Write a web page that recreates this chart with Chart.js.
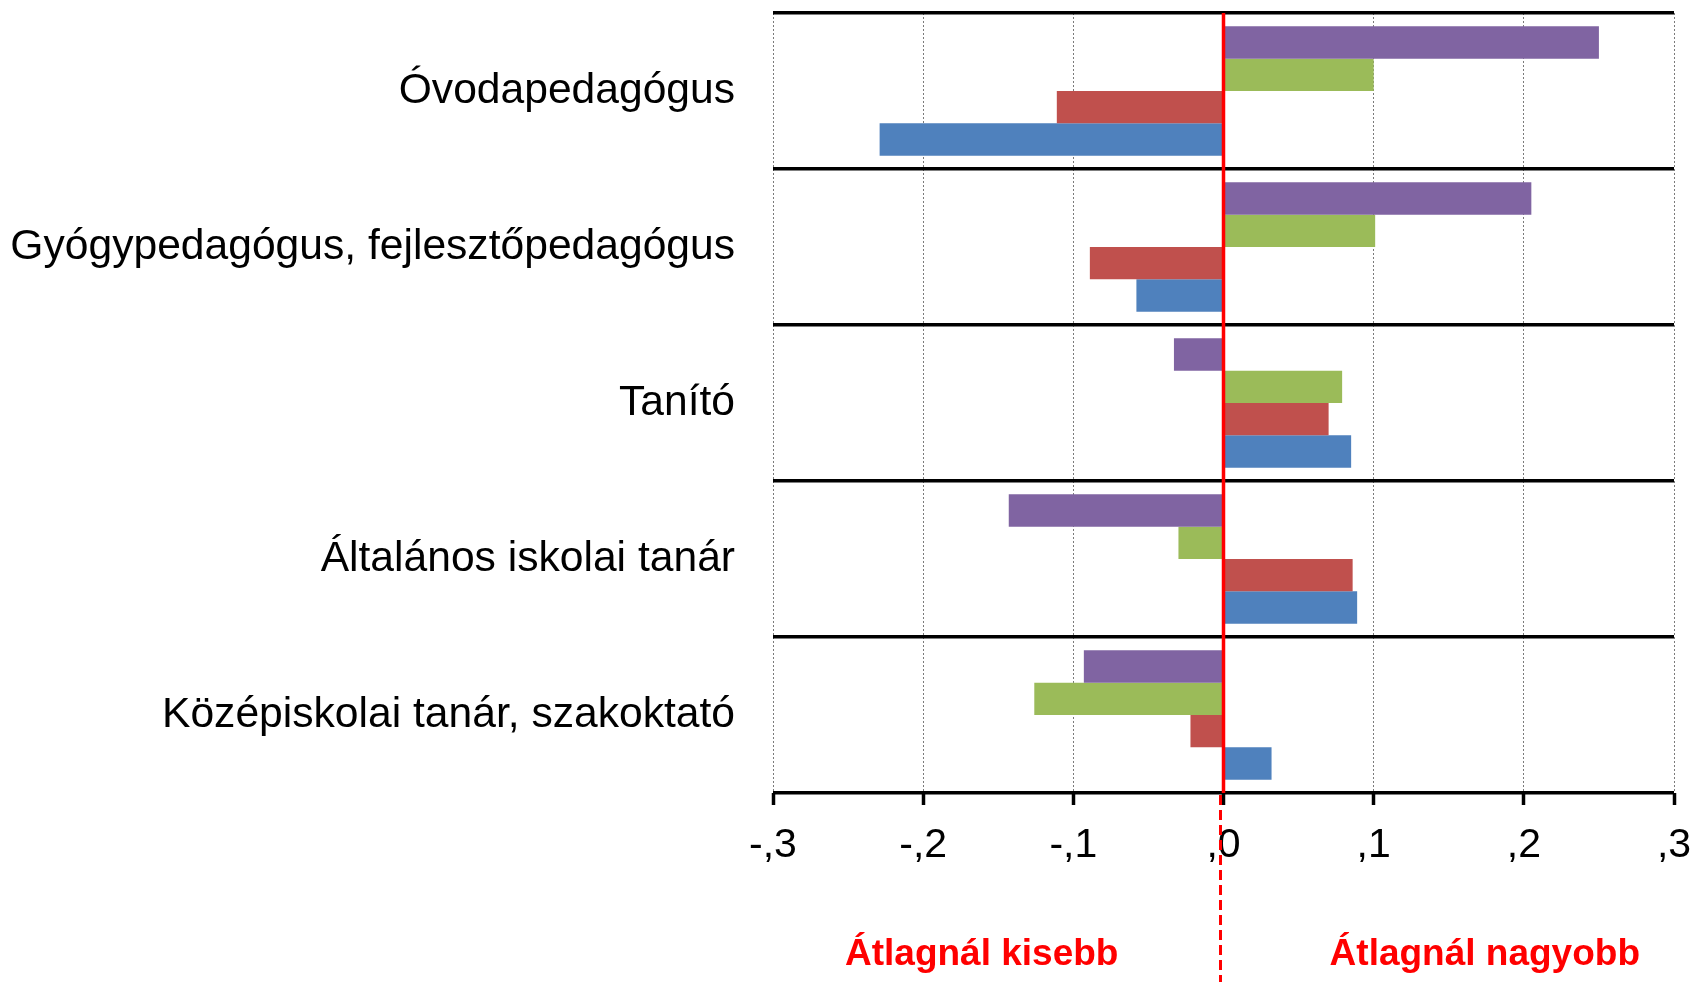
<!DOCTYPE html>
<html lang="hu">
<head>
<meta charset="utf-8">
<title>Pedagógus szakmák</title>
<script src="https://cdn.jsdelivr.net/npm/chart.js@4.4.1/dist/chart.umd.min.js"></script>
<style>
  html, body { margin: 0; padding: 0; background: #fff; }
  .chart-box { width: 1696px; height: 982px; position: relative; }
</style>
</head>
<body>
<div class="chart-box"><canvas class="image-graph"></canvas></div>
<script>
// adatok
const categories = [
  "Óvodapedagógus",
  "Gyógypedagógus, fejlesztőpedagógus",
  "Tanító",
  "Általános iskolai tanár",
  "Középiskolai tanár, szakoktató",
];
const blueValues = [-0.229, -0.058, 0.085, 0.089, 0.032];
const redValues = [-0.111, -0.089, 0.070, 0.086, -0.022];
const greenValues = [0.100, 0.101, 0.079, -0.030, -0.126];
const purpleValues = [0.250, 0.205, -0.033, -0.143, -0.093];
const xTicks = [-0.3, -0.2, -0.1, 0, 0.1, 0.2, 0.3];
const sideLabels = ["Átlagnál kisebb", "Átlagnál nagyobb"];
const sideLabelAt = [-0.161, 0.174];

const fontFamily = '"Liberation Sans", Arial, sans-serif';

// ",1" / "-,2" formátum
const fmt = (v) => {
  const n = Math.round(v * 10);
  const s = "," + Math.abs(n);
  return n < 0 ? "-" + s : s;
};

// nulla vonal + szöveg alul
const zeroLinePlugin = {
  id: "zeroLine",
  afterDraw(chart) {
    const { ctx, chartArea, scales } = chart;
    const x0 = scales.x.getPixelForValue(0);
    ctx.save();
    ctx.strokeStyle = "#ff0000";
    ctx.lineWidth = 3.5;
    ctx.beginPath();
    ctx.moveTo(x0, chartArea.top);
    ctx.lineTo(x0, chartArea.bottom);
    ctx.stroke();

    ctx.lineWidth = 3;
    ctx.setLineDash([10, 5]);
    ctx.beginPath();
    ctx.moveTo(x0 - 3, chartArea.bottom + 2);
    ctx.lineTo(x0 - 3, chart.height);
    ctx.stroke();
    ctx.setLineDash([]);

    ctx.fillStyle = "#ff0000";
    ctx.font = "bold 37px " + fontFamily;
    ctx.textAlign = "center";
    ctx.textBaseline = "alphabetic";
    sideLabels.forEach((t, i) => {
      ctx.fillText(t, scales.x.getPixelForValue(sideLabelAt[i]), 965);
    });
    ctx.restore();
  },
};

const canvas = window.document.querySelector(".image-graph");
const context = canvas.getContext("2d");

const config = {
  type: "bar",
  data: {
    labels: categories,
    datasets: [
      { label: "4", data: purpleValues, backgroundColor: "#8064A2" },
      { label: "3", data: greenValues, backgroundColor: "#9BBB59" },
      { label: "2", data: redValues, backgroundColor: "#C0504D" },
      { label: "1", data: blueValues, backgroundColor: "#4F81BD" },
    ],
  },
  options: {
    indexAxis: "y",
    responsive: true,
    maintainAspectRatio: false,
    animation: false,
    layout: { padding: { top: 13, right: 22, bottom: 0, left: 0 } },
    datasets: {
      bar: { categoryPercentage: 0.83, barPercentage: 1.0, borderWidth: 0 },
    },
    plugins: {
      legend: { display: false },
      tooltip: { enabled: false },
    },
    scales: {
      x: {
        min: -0.3,
        max: 0.3,
        afterBuildTicks: (scale) => {
          scale.ticks = xTicks.map((v) => ({ value: v }));
        },
        afterFit: (scale) => {
          scale.height = 189;
          scale.paddingLeft = 0;
          scale.paddingRight = 0;
        },
        grid: {
          color: "#7a7a7a",
          lineWidth: 1,
          tickLength: 12,
          tickWidth: 3.5,
          tickColor: "#000",
          tickBorderDash: [],
        },
        border: { display: false, dash: [2, 2] },
        ticks: {
          callback: (v) => fmt(v),
          color: "#000",
          padding: 16,
          maxRotation: 0,
          autoSkip: false,
          font: { family: fontFamily, size: 41 },
        },
      },
      y: {
        afterFit: (scale) => {
          scale.width = 773;
          scale.paddingTop = 0;
          scale.paddingBottom = 0;
        },
        grid: {
          offset: true,
          color: "#000",
          lineWidth: 3.5,
          drawTicks: false,
        },
        border: { display: false },
        ticks: {
          color: "#000",
          padding: 38,
          font: { family: fontFamily, size: 42.6 },
        },
      },
    },
  },
  plugins: [zeroLinePlugin],
};

const myChart = new Chart(context, config);
</script>
</body>
</html>
